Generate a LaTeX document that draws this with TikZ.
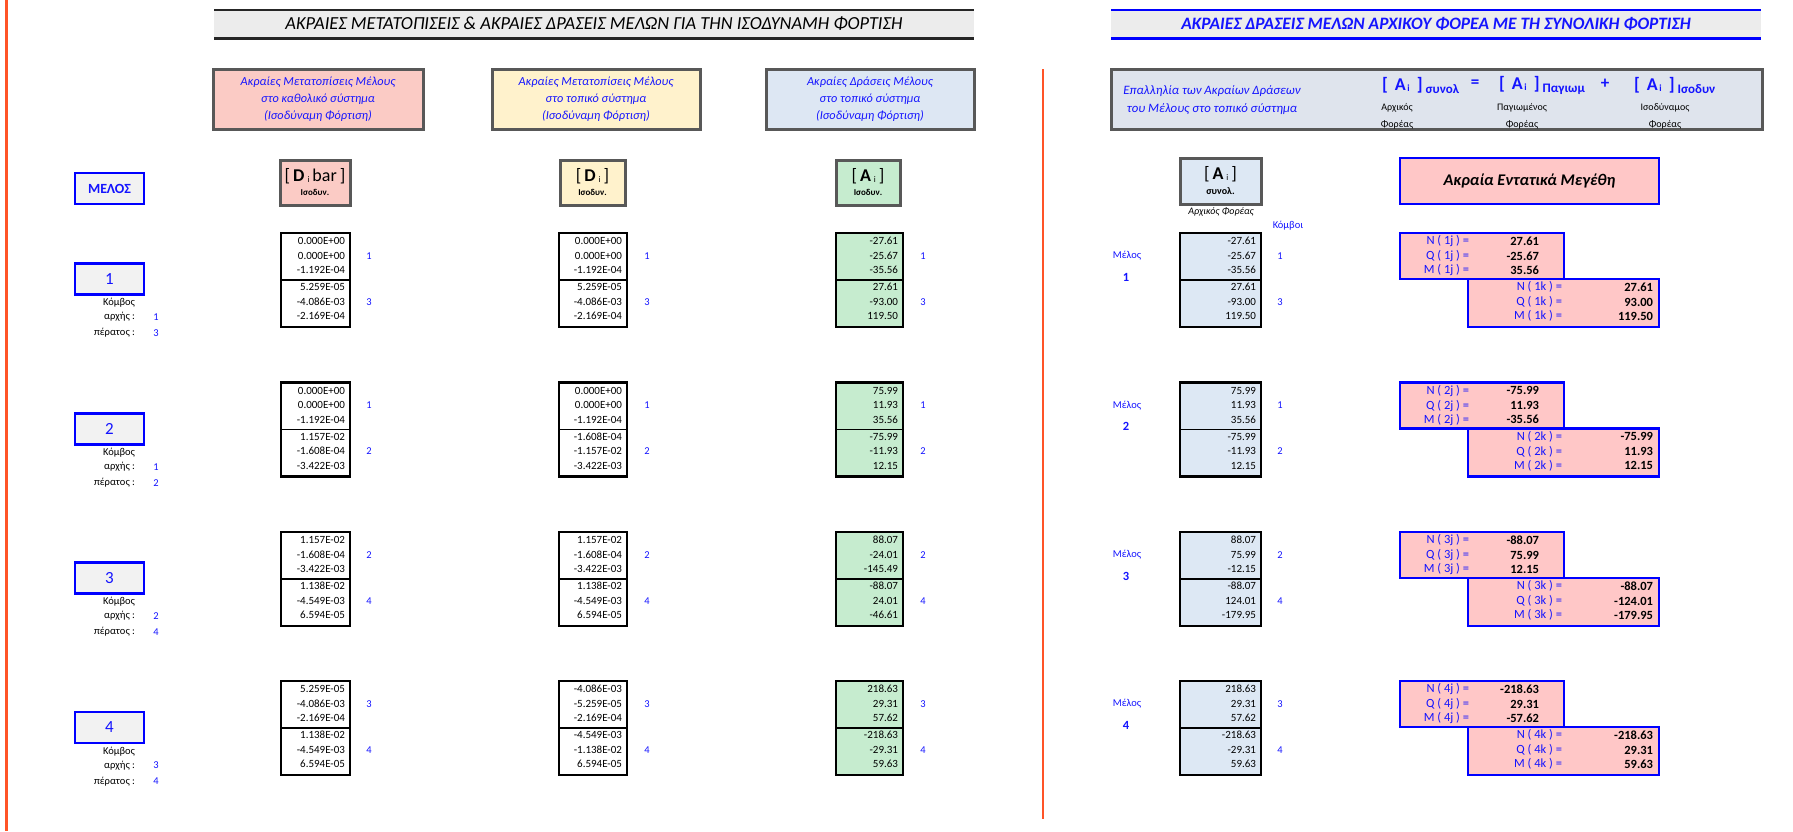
\documentclass[tikz,border=0pt]{standalone}
\usepackage{fontspec}
\setmainfont{Carlito}
\definecolor{pinkhd}{RGB}{251,203,197}
\definecolor{yellowhd}{RGB}{255,242,204}
\definecolor{bluehd}{RGB}{221,231,243}
\definecolor{greenmat}{RGB}{198,236,207}
\definecolor{bluemat}{RGB}{221,232,244}
\definecolor{graymat}{RGB}{223,228,237}
\definecolor{pinkres}{RGB}{255,199,199}
\definecolor{frameg}{RGB}{88,88,88}
\definecolor{titlegray}{RGB}{236,236,236}
\definecolor{memfill}{RGB}{242,242,242}
\definecolor{redline}{RGB}{255,84,40}
\definecolor{txtblue}{RGB}{20,20,255}
\tikzset{
  grayframe/.style={draw=frameg,line width=3pt},
  blueframe/.style={draw=blue,line width=2.6pt},
  matbox/.style={draw=black,line width=2.4pt,minimum height=94pt},
  midline/.style={black,line width=1.3pt},
  num/.style={anchor=east,font=\fontsize{11}{13}\selectfont},
  knum/.style={text=txtblue,font=\fontsize{10.5}{12}\selectfont},
  hdtext/.style={align=center,text=txtblue,font=\fontsize{12.3}{17}\selectfont\itshape},
  small/.style={font=\fontsize{10.5}{12}\selectfont},
  memberbox/.style={blueframe,fill=memfill,minimum width=69pt,minimum height=31pt,text=txtblue},
  fbox/.style={blueframe,fill=pinkres},
  flab/.style={anchor=east,text=txtblue,font=\fontsize{12.5}{14}\selectfont},
  fval/.style={anchor=east,font=\fontsize{12.5}{14}\selectfont\bfseries},
}
% one column of six end values (two nodes x three components)
\newcommand\matcol[6]{%
  \node[matbox,fill=#5,minimum width=#4pt,anchor=north west] (#1) at (#2,#3) {};
  \draw[midline] (#1.west) -- (#1.east);
  \foreach \v [count=\i] in {#6}{%
    \pgfmathsetmacro\yy{#3+8+14.5*(\i-1)+2.5*(\i>3)}%
    \node[num] (#1-\i) at ({#2+#4-5},\yy) {\v};}%
}
% node numbers beside a column
\newcommand\knums[5]{%
  \node[knum] (#1a) at (#2,#3+23) {#4};
  \node[knum] (#1b) at (#2,#3+69) {#5};}
% member label block on the left
\newcommand\memberleft[4]{%
  \node[memberbox,font=\fontsize{17}{19}\selectfont] (mem#1) at (109.5,#2) {#1};
  \node[small,anchor=east] (kom#1) at (135,#2+24) {Κόμβος};
  \node[small,anchor=east] (arx#1) at (135,#2+38) {αρχής :};
  \node[small,anchor=east] (per#1) at (135,#2+54) {πέρατος :};
  \node[knum] (arxv#1) at (156,#2+38) {#3};
  \node[knum] (perv#1) at (156,#2+54) {#4};}
% end forces of a member
\newcommand\forces[8]{%
  \node[fbox,minimum width=164pt,minimum height=46pt,anchor=north west] (fj#1) at (1400,#2) {};
  \node[fbox,minimum width=191pt,minimum height=48pt,anchor=north west] (fk#1) at (1468,#2+46) {};
  \node[flab] (fjN#1) at (1469,#2+8) {N ( #1j ) =};
  \node[flab] (fjQ#1) at (1469,#2+23) {Q ( #1j ) =};
  \node[flab] (fjM#1) at (1469,#2+37) {M ( #1j ) =};
  \node[fval] (fjNv#1) at (1539,#2+8) {#3};
  \node[fval] (fjQv#1) at (1539,#2+23) {#4};
  \node[fval] (fjMv#1) at (1539,#2+37) {#5};
  \node[flab] (fkN#1) at (1562,#2+54) {N ( #1k ) =};
  \node[flab] (fkQ#1) at (1562,#2+69) {Q ( #1k ) =};
  \node[flab] (fkM#1) at (1562,#2+83) {M ( #1k ) =};
  \node[fval] (fkNv#1) at (1653,#2+54) {#6};
  \node[fval] (fkQv#1) at (1653,#2+69) {#7};
  \node[fval] (fkMv#1) at (1653,#2+83) {#8};}
% [ A_i ] with a subscript, as in the superposition formula
\newcommand\Asub[1]{{\fontsize{18}{20}\selectfont\bfseries[\ \,A}\raisebox{-1pt}{\fontsize{9.5}{10}\selectfont\bfseries\,i}{\fontsize{18}{20}\selectfont\bfseries\ \,]}\raisebox{-3pt}{\fontsize{13}{14}\selectfont\bfseries\ #1}}
\begin{document}
\begin{tikzpicture}[x=1pt,y=-1pt,every node/.style={inner sep=0pt,outer sep=0pt}]
\useasboundingbox (0,0) rectangle (1793,831);

% separating lines
\draw[redline,line width=3pt] (6,0) -- (6,831);
\draw[redline,line width=2.5pt] (1043,69) -- (1043,819);

% title bars
\node[fill=titlegray,minimum width=760pt,minimum height=29pt,
      font=\fontsize{18.4}{20}\selectfont\itshape] (ltitle) at (594,24)
  {ΑΚΡΑΙΕΣ ΜΕΤΑΤΟΠΙΣΕΙΣ \& ΑΚΡΑΙΕΣ ΔΡΑΣΕΙΣ ΜΕΛΩΝ ΓΙΑ ΤΗΝ ΙΣΟΔΥΝΑΜΗ ΦΟΡΤΙΣΗ};
\draw[black!85,line width=2pt] (ltitle.north west) -- (ltitle.north east);
\draw[black!85,line width=3pt] (ltitle.south west) -- (ltitle.south east);
\node[fill=titlegray,minimum width=650pt,minimum height=29pt,text=txtblue,
      font=\fontsize{17.4}{19}\selectfont\bfseries\itshape] (rtitle) at (1436,24)
  {ΑΚΡΑΙΕΣ ΔΡΑΣΕΙΣ ΜΕΛΩΝ ΑΡΧΙΚΟΥ ΦΟΡΕΑ ΜΕ ΤΗ ΣΥΝΟΛΙΚΗ ΦΟΡΤΙΣΗ};
\draw[blue,line width=2pt] (rtitle.north west) -- (rtitle.north east);
\draw[blue,line width=3pt] (rtitle.south west) -- (rtitle.south east);

% column headers
\node[grayframe,fill=pinkhd,minimum width=210pt,minimum height=60pt] (h1) at (318,99) {};
\node[hdtext] (h1t) at (h1) {Ακραίες Μετατοπίσεις Μέλους\\στο καθολικό σύστημα\\(Ισοδύναμη Φόρτιση)};
\node[grayframe,fill=yellowhd,minimum width=208pt,minimum height=60pt] (h2) at (596,99) {};
\node[hdtext] (h2t) at (h2) {Ακραίες Μετατοπίσεις Μέλους\\στο τοπικό σύστημα\\(Ισοδύναμη Φόρτιση)};
\node[grayframe,fill=bluehd,minimum width=208pt,minimum height=60pt] (h3) at (870,99) {};
\node[hdtext] (h3t) at (h3) {Ακραίες Δράσεις Μέλους\\στο τοπικό σύστημα\\(Ισοδύναμη Φόρτιση)};

% symbol boxes
\node[grayframe,fill=pinkhd,minimum width=70pt,minimum height=45pt,align=center] (s1) at (315,182.5)
  {{\fontsize{18}{20}\selectfont[\,\textbf{D}\,\raisebox{-1pt}{\fontsize{8.5}{9}\selectfont i}\,bar\,]}\\[2pt]{\fontsize{9}{10}\selectfont\bfseries Ισοδυν.}};
\node[grayframe,fill=yellowhd,minimum width=65pt,minimum height=45pt,align=center] (s2) at (592.5,182.5)
  {{\fontsize{18}{20}\selectfont[\,\textbf{D}\,\raisebox{-1pt}{\fontsize{8.5}{9}\selectfont i}\,]}\\[2pt]{\fontsize{9}{10}\selectfont\bfseries Ισοδυν.}};
\node[grayframe,fill=greenmat,minimum width=64pt,minimum height=45pt,align=center] (s3) at (868,182.5)
  {{\fontsize{18}{20}\selectfont[\,\textbf{A}\,\raisebox{-1pt}{\fontsize{8.5}{9}\selectfont i}\,]}\\[2pt]{\fontsize{9}{10}\selectfont\bfseries Ισοδυν.}};

\node[memberbox,font=\fontsize{14}{16}\selectfont\bfseries] (melos) at (109.5,188.5) {ΜΕΛΟΣ};

% right-hand headers
\node[grayframe,fill=graymat,minimum width=651pt,minimum height=60pt] (rh) at (1436.5,99) {};
\node[hdtext,font=\fontsize{12.8}{18}\selectfont\itshape] (rht) at (1212,100) {Επαλληλία των Ακραίων Δράσεων\\του Μέλους στο τοπικό σύστημα};
\node[anchor=west,text=txtblue] (fa) at (1382,85) {\Asub{συνολ}};
\node[text=txtblue,font=\fontsize{17}{19}\selectfont\bfseries] (feq) at (1475,84) {=};
\node[anchor=west,text=txtblue] (fb) at (1499,85) {\Asub{Παγιωμ}};
\node[text=txtblue,font=\fontsize{17}{19}\selectfont\bfseries] (fplus) at (1605,84) {+};
\node[anchor=west,text=txtblue] (fc) at (1634,85) {\Asub{Ισοδυν}};
\node[align=center,font=\fontsize{10}{17}\selectfont] (fal) at (1397,116) {Αρχικός\\Φορέας};
\node[align=center,font=\fontsize{10}{17}\selectfont] (fbl) at (1522,116) {Παγιωμένος\\Φορέας};
\node[align=center,font=\fontsize{10}{17}\selectfont] (fcl) at (1665,116) {Ισοδύναμος\\Φορέας};

\node[grayframe,fill=bluemat,minimum width=81pt,minimum height=46pt,align=center] (sr) at (1220.5,181)
  {{\fontsize{18}{20}\selectfont[\,\textbf{A}\,\raisebox{-1pt}{\fontsize{8.5}{9}\selectfont i}\,]}\\[3pt]{\fontsize{10}{11}\selectfont\bfseries συνολ.}};
\node[font=\fontsize{10}{11}\selectfont\itshape] (srl) at (1221,212) {Αρχικός Φορέας};
\node[knum] (komvoi) at (1288,226) {Κόμβοι};
\node[blueframe,fill=pinkres,minimum width=259pt,minimum height=46pt,
      font=\fontsize{16.3}{18}\selectfont\bfseries\itshape] (res) at (1529.5,181) {Ακραία Εντατικά Μεγέθη};

% member 1
\memberleft{1}{279}{1}{3}
\matcol{a1}{281}{233}{69}{white}{0.000E+00,0.000E+00,-1.192E-04,5.259E-05,-4.086E-03,-2.169E-04}
\knums{ka1}{369}{233}{1}{3}
\matcol{b1}{559}{233}{68}{white}{0.000E+00,0.000E+00,-1.192E-04,5.259E-05,-4.086E-03,-2.169E-04}
\knums{kb1}{647}{233}{1}{3}
\matcol{c1}{836}{233}{67}{greenmat}{-27.61,-25.67,-35.56,27.61,-93.00,119.50}
\knums{kc1}{923}{233}{1}{3}
\matcol{d1}{1180}{233}{81}{bluemat}{-27.61,-25.67,-35.56,27.61,-93.00,119.50}
\knums{kd1}{1280}{233}{1}{3}
\node[knum] (ml1) at (1127,256) {Μέλος};
\node[knum,font=\fontsize{12.5}{14}\selectfont\bfseries] (mn1) at (1126,277) {1};
\forces{1}{233}{27.61}{-25.67}{35.56}{27.61}{93.00}{119.50}

% member 2
\memberleft{2}{429}{1}{2}
\matcol{a2}{281}{382.5}{69}{white}{0.000E+00,0.000E+00,-1.192E-04,1.157E-02,-1.608E-04,-3.422E-03}
\knums{ka2}{369}{382.5}{1}{2}
\matcol{b2}{559}{382.5}{68}{white}{0.000E+00,0.000E+00,-1.192E-04,-1.608E-04,-1.157E-02,-3.422E-03}
\knums{kb2}{647}{382.5}{1}{2}
\matcol{c2}{836}{382.5}{67}{greenmat}{75.99,11.93,35.56,-75.99,-11.93,12.15}
\knums{kc2}{923}{382.5}{1}{2}
\matcol{d2}{1180}{382.5}{81}{bluemat}{75.99,11.93,35.56,-75.99,-11.93,12.15}
\knums{kd2}{1280}{382.5}{1}{2}
\node[knum] (ml2) at (1127,405.5) {Μέλος};
\node[knum,font=\fontsize{12.5}{14}\selectfont\bfseries] (mn2) at (1126,426.5) {2};
\forces{2}{382.5}{-75.99}{11.93}{-35.56}{-75.99}{11.93}{12.15}

% member 3
\memberleft{3}{578}{2}{4}
\matcol{a3}{281}{532}{69}{white}{1.157E-02,-1.608E-04,-3.422E-03,1.138E-02,-4.549E-03,6.594E-05}
\knums{ka3}{369}{532}{2}{4}
\matcol{b3}{559}{532}{68}{white}{1.157E-02,-1.608E-04,-3.422E-03,1.138E-02,-4.549E-03,6.594E-05}
\knums{kb3}{647}{532}{2}{4}
\matcol{c3}{836}{532}{67}{greenmat}{88.07,-24.01,-145.49,-88.07,24.01,-46.61}
\knums{kc3}{923}{532}{2}{4}
\matcol{d3}{1180}{532}{81}{bluemat}{88.07,75.99,-12.15,-88.07,124.01,-179.95}
\knums{kd3}{1280}{532}{2}{4}
\node[knum] (ml3) at (1127,555) {Μέλος};
\node[knum,font=\fontsize{12.5}{14}\selectfont\bfseries] (mn3) at (1126,576) {3};
\forces{3}{532}{-88.07}{75.99}{12.15}{-88.07}{-124.01}{-179.95}

% member 4
\memberleft{4}{727.5}{3}{4}
\matcol{a4}{281}{681}{69}{white}{5.259E-05,-4.086E-03,-2.169E-04,1.138E-02,-4.549E-03,6.594E-05}
\knums{ka4}{369}{681}{3}{4}
\matcol{b4}{559}{681}{68}{white}{-4.086E-03,-5.259E-05,-2.169E-04,-4.549E-03,-1.138E-02,6.594E-05}
\knums{kb4}{647}{681}{3}{4}
\matcol{c4}{836}{681}{67}{greenmat}{218.63,29.31,57.62,-218.63,-29.31,59.63}
\knums{kc4}{923}{681}{3}{4}
\matcol{d4}{1180}{681}{81}{bluemat}{218.63,29.31,57.62,-218.63,-29.31,59.63}
\knums{kd4}{1280}{681}{3}{4}
\node[knum] (ml4) at (1127,704) {Μέλος};
\node[knum,font=\fontsize{12.5}{14}\selectfont\bfseries] (mn4) at (1126,725) {4};
\forces{4}{681}{-218.63}{29.31}{-57.62}{-218.63}{29.31}{59.63}
\end{tikzpicture}
\end{document}
